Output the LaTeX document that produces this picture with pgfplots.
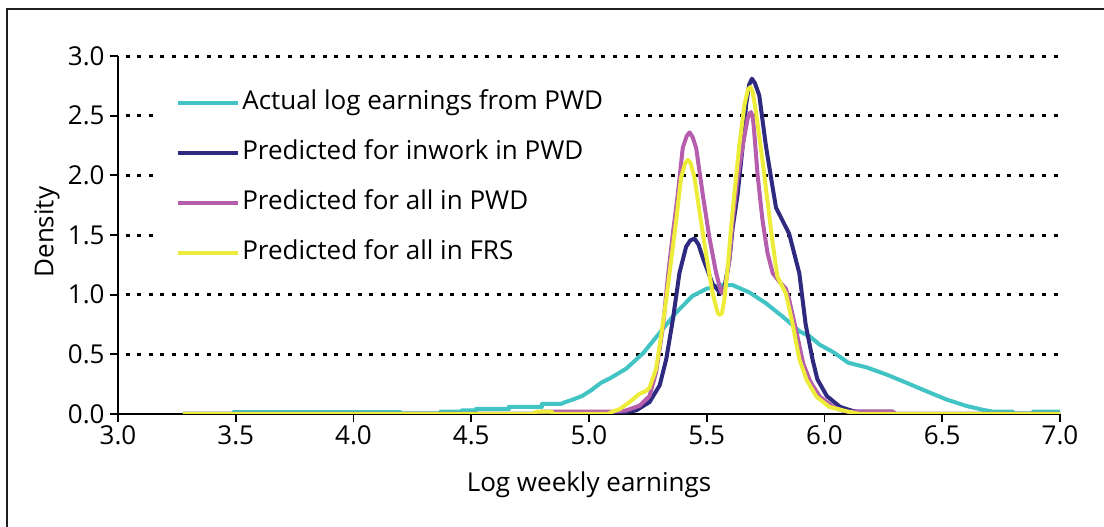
\documentclass[border=0pt]{standalone}
\usepackage{fontspec}
\setmainfont{Open Sans}
\usepackage{pgfplots}
\pgfplotsset{compat=1.18}
\definecolor{ccyan}{RGB}{66,195,196}
\definecolor{cnavy}{RGB}{46,42,128}
\definecolor{cmag}{RGB}{182,93,174}
\definecolor{cyel}{RGB}{238,236,58}
\newcommand{\fs}{\fontsize{13bp}{15bp}\selectfont}
\begin{document}
\begin{tikzpicture}
\useasboundingbox (0,0) rectangle (552bp,263.5bp);
\draw[line width=1bp, black!88] (3.65bp,-1bp) -- (3.65bp,259bp) -- (553bp,259bp);
\begin{axis}[
  at={(59bp,56.5bp)}, anchor=south west,
  scale only axis, width=471bp, height=179bp,
  xmin=3, xmax=7, ymin=0, ymax=3,
  axis x line*=bottom, axis y line*=left,
  axis line style={line width=0.9bp, black, -},
  xtick={3,3.5,4,4.5,5,5.5,6,6.5,7},
  ytick={0,0.5,1,1.5,2,2.5,3},
  tick align=outside, major tick length=4bp,
  tick style={line width=0.9bp, black},
  extra y ticks={0.5,1,1.5,2,2.5,3},
  extra y tick labels={},
  extra y tick style={grid=major, major tick length=0pt},
  grid style={black, line width=1.5bp, dash pattern=on 2bp off 3.8bp, dash phase=2bp},
  tick label style={font=\fs},
  xticklabel style={yshift=1.5bp},
  yticklabel style={xshift=0.8bp},
  label style={font=\fs},
  /pgf/number format/assume math mode=true,
  /pgf/number format/fixed,
  /pgf/number format/fixed zerofill,
  /pgf/number format/precision=1,
  xlabel={Log weekly earnings},
  ylabel={Density},
  xlabel style={at={(axis description cs:0.5,-0.198)}, anchor=center},
  ylabel style={at={(axis description cs:-0.0754,0.508)}, anchor=center},
  legend style={at={(axis cs:3.178,1.978)}, anchor=west, draw=none, fill=white,
    inner xsep=8bp, inner ysep=2bp, row sep=10.5bp, column sep=0bp, font=\fs,
    nodes={inner sep=1bp, text height=9.5bp, text depth=3bp}},
  legend cell align=left,
  legend image code/.code={\draw[#1, line width=2bp] (0bp,0bp) -- (30bp,0bp);},
  every axis plot/.append style={line width=2bp, line join=round},
]
\addplot[ccyan] coordinates {
(3.275,0) (3.49,0) (3.49,0.015) (4.20,0.015) (4.20,0.005) (4.37,0.005) (4.37,0.02)
(4.46,0.02) (4.46,0.03) (4.52,0.03) (4.52,0.042) (4.66,0.042) (4.66,0.06) (4.80,0.06)
(4.80,0.084) (4.88,0.084) (4.90,0.10) (4.93,0.12) (4.97,0.15) (5.01,0.20) (5.05,0.26)
(5.09,0.30) (5.158,0.38) (5.23,0.51) (5.30,0.68) (5.37,0.85) (5.44,0.99) (5.50,1.05)
(5.56,1.08) (5.61,1.08) (5.68,1.02) (5.75,0.93) (5.82,0.82) (5.896,0.69) (5.938,0.65)
(5.98,0.58) (6.036,0.52) (6.10,0.43) (6.18,0.39) (6.264,0.33) (6.35,0.26) (6.434,0.19)
(6.52,0.12) (6.604,0.067) (6.675,0.034) (6.716,0.02) (6.80,0.02) (6.80,0.005)
(6.886,0.005) (6.886,0.02) (7.0,0.02)
};
\addlegendentry{Actual log earnings from PWD}
\addplot[cnavy] coordinates {
(3.275,0) (5.0,0) (5.05,0.005) (5.10,0.005) (5.15,0.015) (5.20,0.03) (5.257,0.10)
(5.30,0.24) (5.328,0.46) (5.356,0.79) (5.384,1.18) (5.412,1.40) (5.43,1.455) (5.448,1.47)
(5.465,1.42) (5.483,1.31) (5.525,1.09) (5.555,1.02) (5.564,1.01) (5.573,1.04) (5.596,1.29)
(5.61,1.56) (5.631,1.84) (5.653,2.25) (5.667,2.59) (5.68,2.76) (5.692,2.81) (5.705,2.77)
(5.723,2.67) (5.751,2.25) (5.773,1.98) (5.794,1.73) (5.85,1.51) (5.893,1.18) (5.92,0.75)
(5.95,0.45) (5.97,0.29) (6.01,0.15) (6.066,0.06) (6.12,0.025) (6.14,0.02) (6.29,0.02)
(6.30,0) (7.0,0)
};
\addlegendentry{Predicted for inwork in PWD}
\addplot[cmag] coordinates {
(3.275,0) (4.78,0) (4.80,0.02) (5.10,0.02) (5.158,0.03) (5.215,0.07) (5.257,0.15)
(5.285,0.35) (5.314,0.73) (5.335,1.15) (5.356,1.51) (5.377,1.84) (5.398,2.23)
(5.415,2.33) (5.427,2.36) (5.44,2.32) (5.455,2.23) (5.483,1.84) (5.511,1.48)
(5.54,1.18) (5.56,1.03) (5.568,1.01) (5.577,1.05) (5.596,1.29) (5.61,1.62) (5.631,1.98)
(5.653,2.25) (5.674,2.48) (5.682,2.52) (5.688,2.53) (5.695,2.49) (5.70,2.40) (5.716,2.0)
(5.737,1.62) (5.758,1.35) (5.78,1.18) (5.808,1.11) (5.836,1.05) (5.85,0.96) (5.885,0.65)
(5.91,0.42) (5.94,0.27) (5.98,0.145) (6.037,0.06) (6.08,0.025) (6.10,0.02) (6.29,0.02)
(6.30,0) (7,0)
};
\addlegendentry{Predicted for all in PWD}
\addplot[cyel] coordinates {
(3.275,0) (4.76,0) (4.78,0.02) (4.84,0.02) (4.85,0) (5.08,0) (5.10,0.02) (5.13,0.04)
(5.172,0.10) (5.215,0.17) (5.24,0.19) (5.257,0.22) (5.285,0.38) (5.306,0.65)
(5.328,0.96) (5.349,1.29) (5.37,1.62) (5.391,1.98) (5.408,2.10) (5.42,2.13) (5.432,2.10)
(5.448,1.98) (5.469,1.70) (5.497,1.34) (5.525,1.01) (5.546,0.85) (5.552,0.835)
(5.558,0.83) (5.565,0.85) (5.575,0.96) (5.589,1.23) (5.603,1.56) (5.617,1.84)
(5.638,2.25) (5.66,2.59) (5.675,2.72) (5.685,2.74) (5.695,2.70) (5.709,2.53) (5.737,2.12)
(5.758,1.78) (5.78,1.43) (5.80,1.15) (5.836,1.01) (5.864,0.76) (5.893,0.46) (5.924,0.285)
(5.966,0.145) (6.02,0.06) (6.10,0.02) (6.15,0) (7,0)
};
\addlegendentry{Predicted for all in FRS}
\end{axis}
\end{tikzpicture}
\end{document}
